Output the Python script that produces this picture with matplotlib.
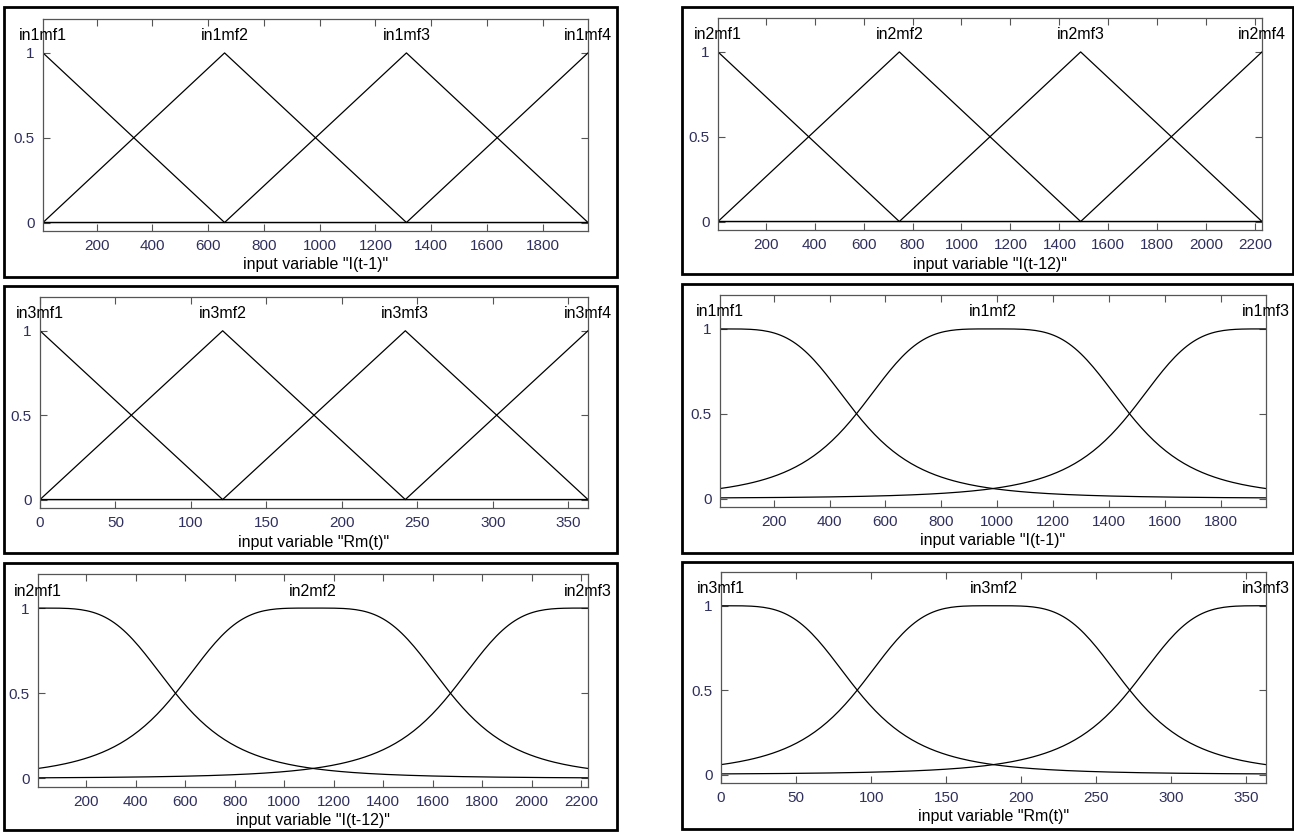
import numpy as np
import matplotlib.pyplot as plt
from matplotlib.patches import Rectangle

plt.rcParams['font.family'] = ['Liberation Sans', 'DejaVu Sans']

W, H = 1294, 832

# input ranges
it1_range = [8, 1962]      # I(t-1)
it12_range = [5, 2228]     # I(t-12)
rm_range = [0, 363]        # Rm(t)

# triangular MFs [a, b, c]
it1_tri = [[-643, 8, 659], [8, 659, 1311], [659, 1311, 1962], [1311, 1962, 2613]]
it12_tri = [[-736, 5, 746], [5, 746, 1487], [746, 1487, 2228], [1487, 2228, 2969]]
rm_tri = [[-121, 0, 121], [0, 121, 242], [121, 242, 363], [242, 363, 484]]

# generalized bell MFs [a, b, c]
it1_bell = [[488.5, 2, 8], [488.5, 2, 985], [488.5, 2, 1962]]
it12_bell = [[555.75, 2, 5], [555.75, 2, 1116.5], [555.75, 2, 2228]]
rm_bell = [[90.75, 2, 0], [90.75, 2, 181.5], [90.75, 2, 363]]

it1_ticks = [200, 400, 600, 800, 1000, 1200, 1400, 1600, 1800]
it12_ticks = [200, 400, 600, 800, 1000, 1200, 1400, 1600, 1800, 2000, 2200]
rm_ticks = [0, 50, 100, 150, 200, 250, 300, 350]

# panel frames and axes boxes in pixels: (left, top, right, bottom)
panels = [
    dict(box=(4, 7, 617, 277), ax=(43, 19, 588, 231), kind='tri', mfs=it1_tri, rng=it1_range,
         ticks=it1_ticks, names=['in1mf1', 'in1mf2', 'in1mf3', 'in1mf4'], xlabel='input variable "I(t-1)"'),
    dict(box=(682, 7, 1293, 274), ax=(718, 18, 1262, 230), kind='tri', mfs=it12_tri, rng=it12_range,
         ticks=it12_ticks, names=['in2mf1', 'in2mf2', 'in2mf3', 'in2mf4'], xlabel='input variable "I(t-12)"'),
    dict(box=(4, 286, 617, 553), ax=(40, 297, 588, 508), kind='tri', mfs=rm_tri, rng=rm_range,
         ticks=rm_ticks, names=['in3mf1', 'in3mf2', 'in3mf3', 'in3mf4'], xlabel='input variable "Rm(t)"'),
    dict(box=(682, 284, 1293, 553), ax=(720, 295, 1266, 507), kind='bell', mfs=it1_bell, rng=it1_range,
         ticks=it1_ticks, names=['in1mf1', 'in1mf2', 'in1mf3'], xlabel='input variable "I(t-1)"'),
    dict(box=(4, 563, 617, 830), ax=(38, 574, 588, 787), kind='bell', mfs=it12_bell, rng=it12_range,
         ticks=it12_ticks, names=['in2mf1', 'in2mf2', 'in2mf3'], xlabel='input variable "I(t-12)"'),
    dict(box=(682, 562, 1293, 829), ax=(721, 572, 1266, 783), kind='bell', mfs=rm_bell, rng=rm_range,
         ticks=rm_ticks, names=['in3mf1', 'in3mf2', 'in3mf3'], xlabel='input variable "Rm(t)"'),
]


def px_rect(l, t, r, b):
    return [l / W, 1 - b / H, (r - l) / W, (b - t) / H]


def gbellmf(x, a, b, c):
    return 1.0 / (1.0 + np.abs((x - c) / a) ** (2 * b))


fig = plt.figure(figsize=(W / 100, H / 100), dpi=100)
fig.patch.set_facecolor('white')

tick_col = '#30305e'
axis_col = '#555555'

for p in panels:
    l, t, r, b = p['box']
    fig.add_artist(Rectangle((l / W, 1 - b / H), (r - l) / W, (b - t) / H, transform=fig.transFigure,
                             fill=False, ec='black', lw=2))

    ax = fig.add_axes(px_rect(*p['ax']))
    x0, x1 = p['rng']
    for mf in p['mfs']:
        if p['kind'] == 'tri':
            a, pk, c = mf
            xs = np.array([x0, min(max(a, x0), x1), pk, min(c, x1), x1])
            ys = np.interp(xs, [a, pk, c], [0, 1, 0], left=0, right=0)
        else:
            xs = np.linspace(x0, x1, 181)
            ys = gbellmf(xs, *mf)
        ax.plot(xs, ys, color='black', lw=0.9)
    centers = [m[1] for m in p['mfs']] if p['kind'] == 'tri' else [m[2] for m in p['mfs']]
    for cx, name in zip(centers, p['names']):
        ax.text(cx, 1.1, name, ha='center', va='center', fontsize=11.5, color='black', clip_on=False)

    ax.set_xlim(x0, x1)
    ax.set_ylim(-0.05, 1.2)
    ax.set_xticks(p['ticks'])
    ax.set_yticks([0, 0.5, 1])
    ax.set_yticklabels(['0', '0.5', '1'])
    ax.tick_params(direction='in', length=5, width=0.8, color=axis_col, labelcolor=tick_col,
                   labelsize=11, top=True, right=True, pad=6)
    for s in ax.spines.values():
        s.set_color(axis_col)
        s.set_linewidth(0.9)
    ax.set_xlabel(p['xlabel'], fontsize=11.5, color='black', labelpad=3)

fig.savefig('out.png', dpi=100)
